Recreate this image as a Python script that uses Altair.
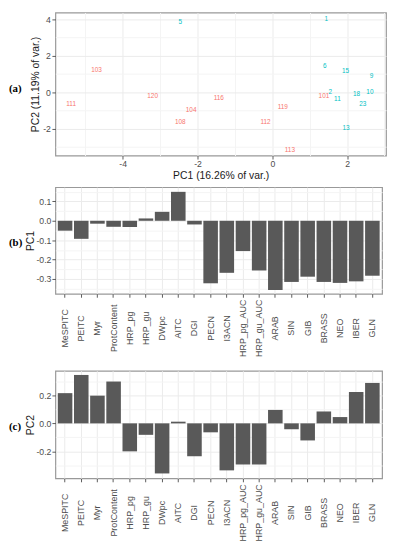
import altair as alt
import pandas as pd

FONT = "Liberation Sans"
TAG_FONT = "Liberation Serif"

# ---- Panel (a): PCA scores ----
sample_ids = ["5", "1", "103", "6", "15", "9", "120", "116", "2", "101", "11",
              "18", "10", "23", "111", "104", "119", "108", "112", "13", "113"]
pc1_scores = [-2.46, 1.44, -4.70, 1.40, 1.96, 2.65, -3.20, -1.43, 1.55, 1.38, 1.74,
              2.25, 2.61, 2.42, -5.38, -2.17, 0.28, -2.46, -0.18, 1.97, 0.47]
pc2_scores = [3.83, 3.99, 1.19, 1.44, 1.13, 0.88, -0.21, -0.32, -0.02, -0.24, -0.38,
              -0.12, 0.02, -0.63, -0.66, -0.96, -0.81, -1.63, -1.65, -1.98, -3.17]
sample_groups = ["B", "B", "A", "B", "B", "B", "A", "A", "B", "A", "B",
                 "B", "B", "B", "A", "A", "A", "A", "A", "B", "A"]

# ---- Panels (b), (c): loadings ----
variables = ["MeSPITC", "PEITC", "Myr", "ProtContent", "HRP_pg", "HRP_gu", "DWpc",
             "AITC", "DGI", "PECN", "I3ACN", "HRP_pg_AUC", "HRP_gu_AUC", "ARAB",
             "SIN", "GIB", "BRASS", "NEO", "IBER", "GLN"]
pc1_loadings = [-0.051, -0.093, -0.015, -0.031, -0.032, 0.012, 0.046, 0.149, -0.019,
                -0.322, -0.268, -0.156, -0.256, -0.356, -0.315, -0.288, -0.315,
                -0.320, -0.312, -0.283]
pc2_loadings = [0.216, 0.346, 0.198, 0.299, -0.200, -0.082, -0.358, 0.012, -0.235,
                -0.064, -0.336, -0.294, -0.294, 0.096, -0.042, -0.122, 0.085,
                0.045, 0.224, 0.289]

MINUS_FIX = "replace({}, '\u2212', '-')"
LABEL_SIZE = 8.8


def q_axis(title, values, major_test, fmt, **kw):
    lab = MINUS_FIX.format("format(datum.value, '%s')" % fmt)
    base = dict(
        title=title, values=values, domain=False,
        grid=True,
        gridColor={"condition": {"test": major_test, "value": "#EBEBEB"}, "value": "#F4F4F4"},
        gridWidth=1,
        tickColor="#333333", tickSize=3.5, tickWidth=0.8,
        tickOpacity={"condition": {"test": major_test, "value": 1}, "value": 0},
        labelExpr="(%s) ? %s : ''" % (major_test, lab),
        labelColor="#4D4D4D", labelFont=FONT, labelFontSize=LABEL_SIZE, labelPadding=1.5,
        labelOverlap=False,
        titleFont=FONT, titleFontSize=10.5, titleFontWeight="normal", titleColor="#1A1A1A")
    base.update(kw)
    return alt.Axis(**base)


def tag(text, h, dy=0):
    return alt.Chart(pd.DataFrame({"tag": [text]})).mark_text(
        font=TAG_FONT, fontWeight="bold", fontSize=11, align="left", baseline="middle",
        color="black").encode(text="tag:N", x=alt.value(-47), y=alt.value(h / 2 + dy))


WA, HA = 335, 145
scores = pd.DataFrame({"id": sample_ids, "PC1": pc1_scores, "PC2": pc2_scores,
                       "group": sample_groups})
pts = alt.Chart(scores).mark_text(font=FONT, fontSize=6.5).encode(
    x=alt.X("PC1:Q", scale=alt.Scale(domain=[-5.8, 3.04], nice=False, zero=False),
            axis=q_axis("PC1 (16.26% of var.)", list(range(-5, 4)), "datum.value % 2 == 0", "d",
                        titlePadding=2, labelPadding=0.5)),
    y=alt.Y("PC2:Q", scale=alt.Scale(domain=[-3.49, 4.37], nice=False, zero=False),
            axis=q_axis("PC2 (11.19% of var.)", list(range(-3, 5)), "datum.value % 2 == 0", "d",
                        titlePadding=2)),
    text="id:N",
    color=alt.Color("group:N", scale=alt.Scale(domain=["A", "B"], range=["#F8766D", "#00BFC4"]),
                    legend=None),
)
panel_a = alt.layer(pts, tag("(a)", HA, 5)).properties(width=WA, height=HA)


def bar_panel(values, ytitle, domain, yvals, test, h, tagtext):
    df = pd.DataFrame({"var": variables, "val": values})
    bars = alt.Chart(df).mark_bar(color="#595959").encode(
        x=alt.X("var:N", sort=variables,
                scale=alt.Scale(paddingInner=0.1, paddingOuter=0.15),
                axis=alt.Axis(title=None, domain=False, grid=True, gridColor="#EBEBEB",
                              bandPosition=0.5, tickColor="#333333", tickSize=3.5,
                              tickWidth=0.8, labelAngle=270, labelAlign="center",
                              labelBaseline="middle", labelPadding=31, labelOverlap=False,
                              labelColor="#4D4D4D", labelFont=FONT, labelFontSize=9)),
        y=alt.Y("val:Q", scale=alt.Scale(domain=domain, nice=False, zero=False),
                axis=q_axis(ytitle, yvals, test, ".1f", titlePadding=0.5, labelPadding=1)),
    )
    return alt.layer(bars, tag(tagtext, h, 3)).properties(width=331, height=h)


panel_b = bar_panel(pc1_loadings, "PC1", [-0.376, 0.173],
                    [-0.35, -0.3, -0.25, -0.2, -0.15, -0.1, -0.05, 0, 0.05, 0.1, 0.15],
                    "abs(round(datum.value*20)) % 2 == 0", 108, "(b)")
panel_c = bar_panel(pc2_loadings, "PC2", [-0.393, 0.376],
                    [-0.3, -0.2, -0.1, 0, 0.1, 0.2, 0.3],
                    "abs(round(datum.value*10)) % 2 == 0", 109, "(c)")

chart = alt.vconcat(
    panel_a, alt.vconcat(panel_b, panel_c, spacing=12), spacing=5
).properties(padding=0, background="white").configure_view(
    stroke="#999999", strokeWidth=1.2)

chart.save("out.html", embed_options={"renderer": "svg", "actions": False})
